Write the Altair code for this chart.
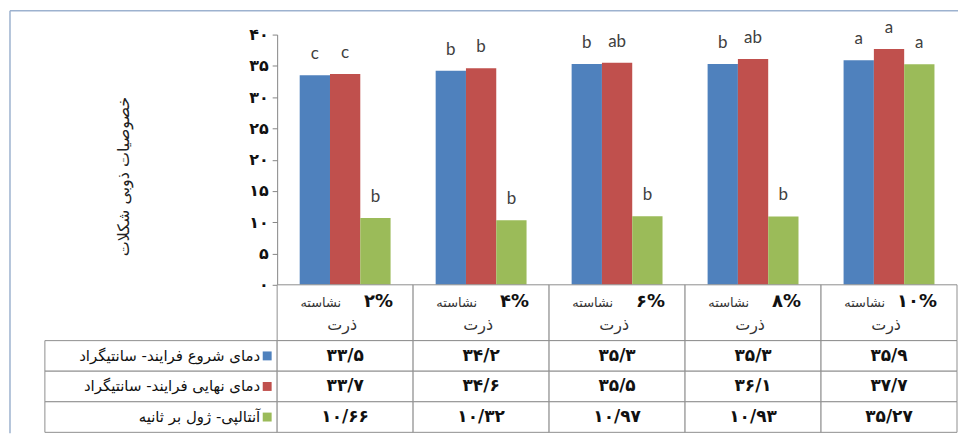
import altair as alt
import pandas as pd

# ---------------- data ----------------
categories = ["۲% نشاسته ذرت", "۴% نشاسته ذرت", "۶% نشاسته ذرت", "۸% نشاسته ذرت", "۱۰% نشاسته ذرت"]
cat_pct = ["۲%", "۴%", "۶%", "۸%", "۱۰%"]
cat_word = "نشاسته"
cat_word2 = "ذرت"

series = ["دمای شروع فرایند- سانتیگراد", "دمای نهایی فرایند- سانتیگراد", "آنتالپی- ژول بر ثانیه"]
colors = ["#4F81BD", "#C0504D", "#9BBB59"]

start_temp = [33.5, 34.2, 35.3, 35.3, 35.9]
end_temp = [33.7, 34.6, 35.5, 36.1, 37.7]
enthalpy = [10.66, 10.32, 10.97, 10.93, 35.27]

letters_start = ["c", "b", "b", "b", "a"]
letters_end = ["c", "b", "ab", "ab", "a"]
letters_enth = ["b", "b", "b", "b", "a"]

y_ticks = [0, 5, 10, 15, 20, 25, 30, 35, 40]
y_tick_labels = ["۰", "۵", "۱۰", "۱۵", "۲۰", "۲۵", "۳۰", "۳۵", "۴۰"]
y_title = "خصوصیات ذوبی شکلات"

# ---------------- tables ----------------
_fa = str.maketrans("0123456789.", "۰۱۲۳۴۵۶۷۸۹/")


def fa_num(v):
    return str(v).translate(_fa)


rows = []
for s_name, vals, lets in zip(series, [start_temp, end_temp, enthalpy],
                              [letters_start, letters_end, letters_enth]):
    for c, v, l in zip(categories, vals, lets):
        rows.append({"cat": c, "series": s_name, "value": v, "letter": l, "label": fa_num(v)})
df = pd.DataFrame(rows)

hdf = pd.DataFrame({"cat": categories, "pct": cat_pct, "word": [cat_word] * 5, "word2": [cat_word2] * 5})
sdf = pd.DataFrame({"series": series})

FA_FONT = "DejaVu Sans"
GRID = "#8f8f8f"
LEFT_W, RIGHT_W = 233, 682
BAR_H, HDR_H, TAB_H = 251, 56, 92

color = alt.Color("series:N", sort=series, scale=alt.Scale(domain=series, range=colors), legend=None)
x_band = alt.X("cat:N", sort=categories, scale=alt.Scale(paddingInner=0, paddingOuter=0), axis=None)

# ---------------- bar chart ----------------
label_expr = "[" + ",".join("'%s'" % t for t in y_tick_labels) + "][datum.value / 5]"
base = alt.Chart(df).encode(
    x=x_band,
    xOffset=alt.XOffset("series:N", sort=series, scale=alt.Scale(paddingInner=0, paddingOuter=0.744)),
    y=alt.Y("value:Q", scale=alt.Scale(domain=[0, 40]),
            axis=alt.Axis(values=y_ticks, labelExpr=label_expr, grid=False, title=y_title,
                          titleFont=FA_FONT, titleFontSize=16, titleFontWeight="normal", titleColor="#222",
                          titleX=-154, titleY=142, titleAngle=270, titleAlign="center", titleBaseline="middle",
                          labelFont=FA_FONT, labelFontSize=16, labelFontWeight="bold", labelColor="#111",
                          labelPadding=4, tickSize=5, tickColor="#868686", domainColor="#868686")),
)
bars = base.mark_bar().encode(color=color)
letters = base.mark_text(dy=-16, baseline="alphabetic", font="Lato", fontSize=17, color="#404040").encode(
    text="letter:N")
bar_chart = alt.layer(bars, letters).properties(width=RIGHT_W, height=BAR_H)

# ---------------- outer frame (top-left cell) ----------------
one = pd.DataFrame({"k": [0]})
frame_v = alt.Chart(one).mark_rule(color="#9db2cf", strokeWidth=1.5).encode(
    x=alt.value(-35), y=alt.value(-24), y2=alt.value(400))
frame_h = alt.Chart(one).mark_rule(color="#9db2cf", strokeWidth=1.5).encode(
    x=alt.value(-35), x2=alt.value(LEFT_W + RIGHT_W + 1), y=alt.value(-24))
corner = alt.layer(frame_v, frame_h).properties(width=LEFT_W, height=BAR_H)

# ---------------- header row ----------------
blank = alt.Chart(one).mark_text(text="").encode(x=alt.value(0), y=alt.value(0)).properties(
    width=LEFT_W, height=HDR_H)

hdr = alt.Chart(hdf).encode(x=x_band)
hdr_cells = hdr.mark_rect(fill="white", stroke=GRID, strokeWidth=1)
hdr_pct = hdr.mark_text(align="right", baseline="middle", dx=48, font=FA_FONT, fontWeight="bold",
                        fontSize=18, color="#111").encode(y=alt.value(17), text="pct:N")
hdr_word = hdr.mark_text(align="right", baseline="middle", dx=-4, font=FA_FONT, fontSize=13,
                         color="#333").encode(y=alt.value(18), text="word:N")
hdr_word2 = hdr.mark_text(align="center", baseline="middle", dx=-3, font=FA_FONT, fontSize=16,
                          color="#333").encode(y=alt.value(40), text="word2:N")
header = alt.layer(hdr_cells, hdr_pct, hdr_word, hdr_word2).properties(width=RIGHT_W, height=HDR_H)

# ---------------- legend column ----------------
y_rows = alt.Y("series:N", sort=series, scale=alt.Scale(paddingInner=0, paddingOuter=0), axis=None)
leg = alt.Chart(sdf).encode(y=y_rows)
leg_cells = leg.mark_rect(fill="white", stroke=GRID, strokeWidth=1)
leg_sq = leg.mark_square(size=80, opacity=1).encode(x=alt.value(LEFT_W - 10), color=color)
leg_txt = leg.mark_text(align="right", baseline="middle", font=FA_FONT, fontSize=15, color="#111").encode(
    x=alt.value(LEFT_W - 17), text="series:N")
legend_col = alt.layer(leg_cells, leg_sq, leg_txt).properties(width=LEFT_W, height=TAB_H)

# ---------------- value cells ----------------
tab = alt.Chart(df).encode(x=x_band, y=y_rows)
tab_cells = tab.mark_rect(fill="white", stroke=GRID, strokeWidth=1)
tab_txt = tab.mark_text(baseline="middle", font=FA_FONT, fontWeight="bold", fontSize=17, color="#111").encode(
    text="label:N")
values = alt.layer(tab_cells, tab_txt).properties(width=RIGHT_W, height=TAB_H)

chart = alt.concat(corner, bar_chart, blank, header, legend_col, values, columns=2, spacing=0,
                   bounds="flush").resolve_scale(color="shared").properties(
    padding={"left": 0, "top": 0, "right": 0, "bottom": 0}
).configure_view(stroke="transparent")

chart.save("out.html", embed_options={"renderer": "svg", "actions": False})
